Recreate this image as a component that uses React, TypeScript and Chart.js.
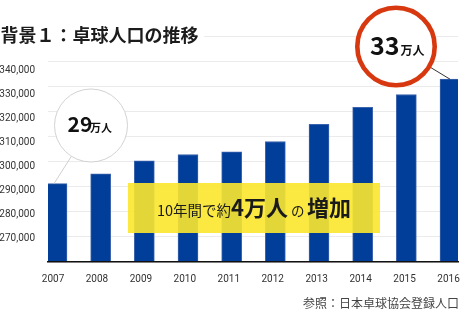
import React, { useEffect, useRef } from "react";
import { Chart, registerables } from "chart.js";

Chart.register(...registerables);

// ---- data ----
const years = ["2007", "2008", "2009", "2010", "2011", "2012", "2013", "2014", "2015", "2016"];
const players = [291200, 295100, 300300, 302800, 303900, 308000, 314800, 321600, 326700, 332800];
const yGridMin = 260000;
const yGridMax = 350000;
const yStep = 10000;
const yTickLabels = [270000, 280000, 290000, 300000, 310000, 320000, 330000, 340000];

const TITLE = "背景１：卓球人口の推移";
const SOURCE = "参照：日本卓球協会登録人口";

const FONT_JP = '"Noto Sans CJK JP", "Noto Sans", sans-serif';
const FONT_NUM = 'Roboto, "Liberation Sans", sans-serif';

const annotationPlugin = {
  id: "annotations",
  afterDraw(chart: any) {
    const ctx = chart.ctx as CanvasRenderingContext2D;
    const meta = chart.getDatasetMeta(0);
    const first = meta.data[0];
    const last = meta.data[meta.data.length - 1];
    ctx.save();

    // Title with white backing
    ctx.font = `bold 18px ${FONT_JP}`;
    const tw = ctx.measureText(TITLE).width;
    ctx.fillStyle = "#ffffff";
    ctx.fillRect(0, 24, tw + 6, 24);
    ctx.fillStyle = "#1c1c1c";
    ctx.textBaseline = "middle";
    ctx.textAlign = "left";
    ctx.fillText(TITLE, 0.5, 35.5);

    // Yellow highlight box
    ctx.fillStyle = "rgba(251,231,45,0.9)";
    ctx.fillRect(128, 183, 252, 50);
    ctx.fillStyle = "#1a1a1a";
    ctx.textBaseline = "alphabetic";
    const segs = [
      { t: "10年間で約", f: `14.5px ${FONT_JP}`, x: 157 },
      { t: "4万人", f: `bold 22px ${FONT_JP}`, x: 231 },
      { t: "の", f: `13.5px ${FONT_JP}`, x: 291 },
      { t: "増加", f: `bold 22px ${FONT_JP}`, x: 307 },
    ];
    segs.forEach((s) => {
      ctx.font = s.f;
      ctx.fillText(s.t, s.x, 216);
    });

    // 29万人 circle
    const c1 = { x: 91, y: 125.5, r: 36.5 };
    const e1x = first.x - 3;
    const e1y = first.y;
    {
      const dx = e1x - c1.x, dy = e1y - c1.y;
      const d = Math.hypot(dx, dy);
      ctx.strokeStyle = "#cfcfcf";
      ctx.lineWidth = 1;
      ctx.beginPath();
      ctx.moveTo(c1.x + (dx / d) * c1.r, c1.y + (dy / d) * c1.r);
      ctx.lineTo(e1x, e1y);
      ctx.stroke();
    }
    ctx.beginPath();
    ctx.arc(c1.x, c1.y, c1.r, 0, Math.PI * 2);
    ctx.fillStyle = "#ffffff";
    ctx.fill();
    ctx.strokeStyle = "#d2d2d2";
    ctx.lineWidth = 1;
    ctx.stroke();
    ctx.fillStyle = "#111111";
    ctx.font = `bold 21px ${FONT_JP}`;
    ctx.fillText("29", 67.5, 132);
    ctx.font = `bold 11px ${FONT_JP}`;
    ctx.fillText("万人", 90, 132);

    // 33万人 circle
    const c2 = { x: 396, y: 46.5, r: 38.7 };
    const e2x = last.x;
    const e2y = last.y;
    {
      const dx = e2x - c2.x, dy = e2y - c2.y;
      const d = Math.hypot(dx, dy);
      ctx.strokeStyle = "#333333";
      ctx.lineWidth = 1;
      ctx.beginPath();
      ctx.moveTo(c2.x + (dx / d) * c2.r, c2.y + (dy / d) * c2.r);
      ctx.lineTo(e2x, e2y);
      ctx.stroke();
    }
    ctx.beginPath();
    ctx.arc(c2.x, c2.y, c2.r, 0, Math.PI * 2);
    ctx.fillStyle = "#ffffff";
    ctx.fill();
    ctx.strokeStyle = "#d7380f";
    ctx.lineWidth = 4.6;
    ctx.stroke();
    ctx.fillStyle = "#111111";
    ctx.font = `bold 25px ${FONT_JP}`;
    ctx.fillText("33", 370, 54.5);
    ctx.font = `bold 12px ${FONT_JP}`;
    ctx.fillText("万人", 400.5, 54.5);

    // Source
    ctx.font = `12px ${FONT_JP}`;
    ctx.fillStyle = "#444444";
    ctx.textAlign = "right";
    ctx.textBaseline = "middle";
    ctx.fillText(SOURCE, 459, 303.5);

    ctx.restore();
  },
};

export default function App() {
  const ref = useRef<HTMLCanvasElement | null>(null);

  useEffect(() => {
    document.body.style.margin = "0";
    if (!ref.current) return;
    const chart = new Chart(ref.current, {
      type: "bar",
      data: {
        datasets: [
          {
            data: players.map((v, i) => ({ x: i, y: v })),
            backgroundColor: "#003e99",
            borderColor: "#3c63ad",
            borderWidth: 1,
            barThickness: 20,
          },
        ],
      },
      options: {
        animation: false,
        responsive: false,
        devicePixelRatio: 1,
        layout: { padding: { top: 36, right: 14, bottom: 35, left: 0 } },
        plugins: {
          legend: { display: false },
          title: { display: false },
          tooltip: { enabled: false },
        },
        scales: {
          x: {
            type: "linear",
            position: "bottom",
            weight: 0,
            offset: false,
            min: -0.206,
            max: 9.183,
            grid: { display: false, drawTicks: false, offset: false },
            border: { display: true, color: "#111111", width: 1.5, z: 1 },
            ticks: { display: false },
            afterFit: (s: any) => {
              s.height = 0;
            },
          },
          xl: {
            type: "linear",
            position: "bottom",
            weight: 1,
            offset: false,
            min: -0.114,
            max: 9.216,
            grid: { display: false, drawTicks: false, offset: false },
            border: { display: false },
            afterBuildTicks: (s: any) => {
              s.ticks = years.map((_, i) => ({ value: i }));
            },
            ticks: {
              padding: 11,
              color: "#333333",
              font: { family: FONT_NUM, size: 10 },
              maxRotation: 0,
              autoSkip: false,
              callback: (v: any) => years[v as number] ?? "",
            },
            afterFit: (s: any) => {
              s.height = 24;
            },
          },
          y: {
            type: "linear",
            position: "left",
            weight: 0,
            min: yGridMin,
            max: yGridMax,
            grid: { color: "#ebebeb", lineWidth: 1, drawTicks: false },
            border: { display: false },
            ticks: { display: false, stepSize: yStep },
            afterFit: (s: any) => {
              s.width = 0;
            },
          },
          yl: {
            type: "linear",
            position: "left",
            weight: 1,
            min: yGridMin,
            max: yGridMin + ((yGridMax - yGridMin) * 226) / 216,
            grid: { display: false, drawTicks: false },
            border: { display: false },
            afterBuildTicks: (s: any) => {
              s.ticks = yTickLabels.map((v) => ({ value: v }));
            },
            ticks: {
              padding: 13,
              color: "#333333",
              font: { family: FONT_NUM, size: 10 },
              callback: (v: any) => Number(v).toLocaleString("en-US"),
            },
            afterFit: (s: any) => {
              s.width = 48;
            },
          },
        },
      },
      plugins: [annotationPlugin],
    });
    return () => chart.destroy();
  }, []);

  return (
    <div style={{ width: 472, height: 321 }}>
      <canvas ref={ref} width={472} height={321} style={{ display: "block", width: 472, height: 321 }} />
    </div>
  );
}
